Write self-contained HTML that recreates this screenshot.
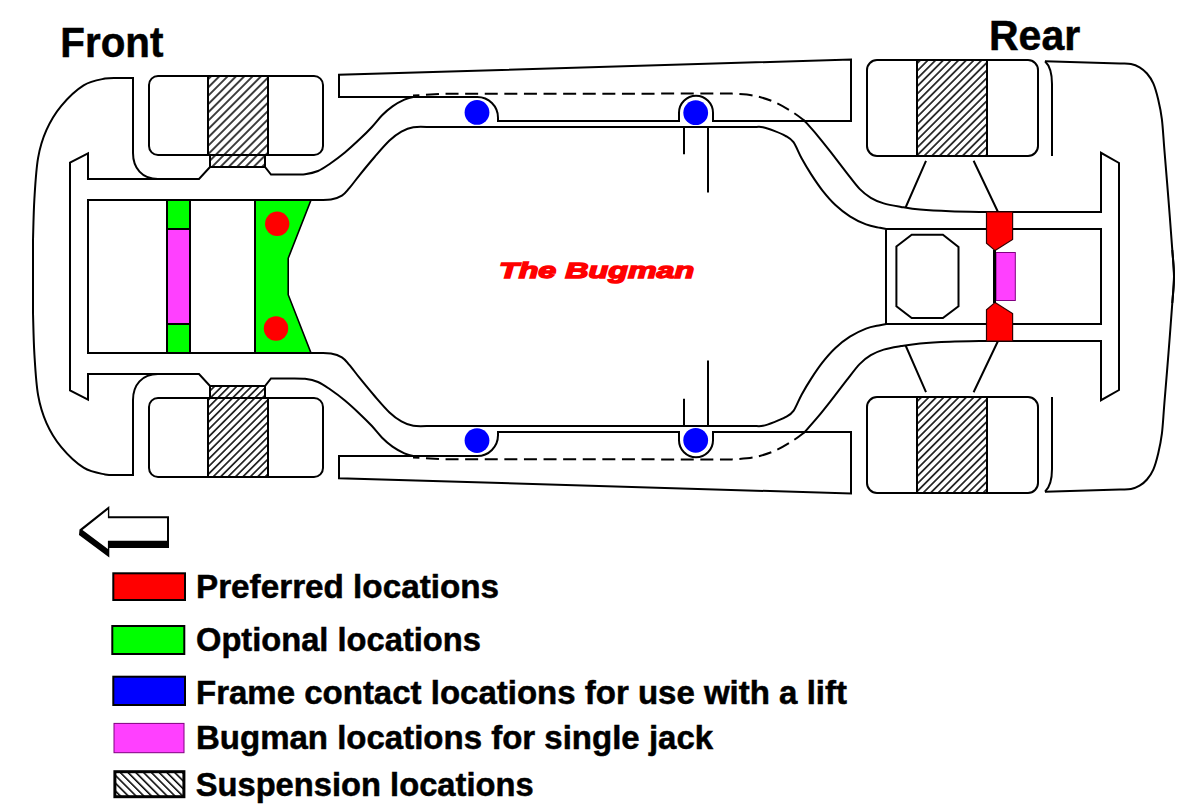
<!DOCTYPE html>
<html><head><meta charset="utf-8"><style>
html,body{margin:0;padding:0;background:#fff;width:1200px;height:807px;overflow:hidden}
svg{display:block}
text{font-family:"Liberation Sans",sans-serif}
</style></head><body>
<svg width="1200" height="807" viewBox="0 0 1200 807">
<defs>
<pattern id="hft" patternUnits="userSpaceOnUse" width="5.89" height="5.89" patternTransform="rotate(45) translate(2.9,0)"><rect x="-1" y="-1" width="7.89" height="7.89" fill="#fff"/><line x1="0" y1="-1" x2="0" y2="6.89" stroke="#000" stroke-width="1.5"/><line x1="5.89" y1="-1" x2="5.89" y2="6.89" stroke="#000" stroke-width="1.5"/></pattern>
<pattern id="hfb" patternUnits="userSpaceOnUse" width="5.25" height="5.25" patternTransform="rotate(45) translate(4.88,0)"><rect x="-1" y="-1" width="7.25" height="7.25" fill="#fff"/><line x1="0" y1="-1" x2="0" y2="6.25" stroke="#000" stroke-width="1.5"/><line x1="5.25" y1="-1" x2="5.25" y2="6.25" stroke="#000" stroke-width="1.5"/></pattern>
<pattern id="hrt" patternUnits="userSpaceOnUse" width="5.42" height="5.42" patternTransform="rotate(45) translate(4.95,0)"><rect x="-1" y="-1" width="7.42" height="7.42" fill="#fff"/><line x1="0" y1="-1" x2="0" y2="6.42" stroke="#000" stroke-width="1.5"/><line x1="5.42" y1="-1" x2="5.42" y2="6.42" stroke="#000" stroke-width="1.5"/></pattern>
<pattern id="hrb" patternUnits="userSpaceOnUse" width="5.3" height="5.3" patternTransform="rotate(45) translate(4.88,0)"><rect x="-1" y="-1" width="7.3" height="7.3" fill="#fff"/><line x1="0" y1="-1" x2="0" y2="6.3" stroke="#000" stroke-width="1.5"/><line x1="5.3" y1="-1" x2="5.3" y2="6.3" stroke="#000" stroke-width="1.5"/></pattern>
<pattern id="h2" patternUnits="userSpaceOnUse" width="5.5" height="5.5" patternTransform="rotate(-45)">
<rect width="5.5" height="5.5" fill="#fff"/><line x1="0" y1="-1" x2="0" y2="6.5" stroke="#000" stroke-width="3.1"/></pattern>
</defs>
<rect width="1200" height="807" fill="#fff"/>
<g stroke="none">
<polygon points="255,200 311,200 288.2,258.3 288.2,294.7 311,353 255,353" fill="#00ff00" stroke="#000" stroke-width="1.6"/>
<rect x="167" y="200" width="23" height="153" fill="#00ff00"/>
<rect x="167" y="229" width="23" height="95" fill="#ff40ff"/>
</g>
<g fill="none" stroke="#000" stroke-width="2">
<path d="M33,278 L33,240 C33.23,233.12 33.55,212.4 34.4,198.7 C35.25,185 36.08,169.27 38.1,157.8 C40.12,146.33 42.63,138.57 46.5,129.9 C50.37,121.23 55.12,113.23 61.3,105.8 C67.48,98.37 76.32,89.83 83.6,85.3 C90.88,80.77 98.93,79.82 105,78.6 C111.07,77.38 117.5,78.1 120,78 L133,78 L133,153 C133,168 142,179 158,179"/>
<path d="M70,278 L70,162.6 L88,153.3 L88,179 L199,179 L210,167 L265,167 L271,174.6 L290,174.6 C292.5,174.53 300.33,174.8 305,174.2 C309.67,173.6 313.83,172.75 318,171 C322.17,169.25 325.52,166.78 330,163.7 C334.48,160.62 339.93,156.6 344.9,152.5 C349.87,148.4 355.33,143.32 359.8,139.1 C364.27,134.88 367.98,131.17 371.7,127.2 C375.42,123.23 378.63,118.77 382.1,115.3 C385.57,111.83 388.78,109 392.5,106.4 C396.22,103.8 400.93,101.25 404.4,99.7 C407.87,98.15 409.87,97.55 413.3,97.1 C416.73,96.65 423.05,97.02 425,97 L477.3,97 A20.7,20.7 0 0 1 498,117.7 L498,121 L679,121 L679,112.7 A17,17 0 0 1 713,112.7 L713,121 L851,121 L851,59.5 L339,74.8 L339,97 L425,97"/>
<path d="M88,278 L88,200 L318,200 C320.17,199.93 327.02,200.32 331,199.6 C334.98,198.88 338.85,197.6 341.9,195.7 C344.95,193.8 346.32,191.68 349.3,188.2 C352.28,184.72 355.58,180 359.8,174.8 C364.02,169.6 369.65,162.7 374.6,157 C379.55,151.3 385.03,144.82 389.5,140.6 C393.97,136.38 397.43,133.93 401.4,131.7 C405.37,129.47 408.53,127.98 413.3,127.2 C418.07,126.42 427.22,127.03 430,127 L755,127 C756.33,127.03 759.8,126.55 763,127.2 C766.2,127.85 770.47,129.47 774.2,130.9 C777.93,132.33 782.18,133.92 785.4,135.8 C788.62,137.68 790.8,138.45 793.5,142.2 C796.2,145.95 798.65,152.93 801.6,158.3 C804.55,163.67 807.72,169.02 811.2,174.4 C814.68,179.78 818.47,185.5 822.5,190.6 C826.53,195.7 830.83,200.72 835.4,205 C839.97,209.28 844.8,213.07 849.9,216.3 C855,219.53 860.98,222.48 866,224.4 C871.02,226.32 876.67,227.03 880,227.8 C883.33,228.57 885,228.8 886,229 L886,278"/>
<path d="M803,119.5 C803.57,120.07 803.95,120.18 806.4,122.9 C808.85,125.62 813.67,130.97 817.7,135.8 C821.73,140.63 825.77,145.73 830.6,151.9 C835.43,158.07 841.87,166.63 846.7,172.8 C851.53,178.97 855.58,184.73 859.6,188.9 C863.62,193.07 866.78,195.38 870.8,197.8 C874.82,200.22 878.67,201.88 883.7,203.4 C888.73,204.92 894.95,205.87 901,206.9 C907.05,207.93 911.83,208.87 920,209.6 C928.17,210.33 938.83,210.9 950,211.3 C961.17,211.7 980.83,211.88 987,212 L1101,212 L1101,152.8 L1119,163 L1119,278"/>
<path d="M886,229 L1101,229 L1101,278"/>
<path d="M1045,61.3 C1050,66 1052,74 1052,84 L1052,156"/>
<path d="M1045,61.3 L1120,63.4 C1125.17,63.63 1127.73,63.35 1131,64 C1134.27,64.65 1136.93,65.72 1139.6,67.3 C1142.27,68.88 1144.72,70.82 1147,73.5 C1149.28,76.18 1151.43,79.07 1153.3,83.4 C1155.17,87.73 1156.77,93.52 1158.2,99.5 C1159.63,105.48 1160.87,110.88 1161.9,119.3 C1162.93,127.72 1163.3,136.55 1164.4,150 C1165.5,163.45 1167.18,183.33 1168.5,200 C1169.82,216.67 1171.38,237.25 1172.3,250 C1173.22,262.75 1174,267.67 1174,276.5 C1174,285.33 1172.58,298.58 1172.3,303"/>
<path d="M684,127 L684,154.3 M708,127 L708,192.6"/>
<path d="M926,160.8 L905.6,207.5 M973.6,160.8 L998,212"/>
<path d="M158,76 H314 A9,9 0 0 1 323,85 V146 A9,9 0 0 1 314,155 H158 A9,9 0 0 1 149,146 V85 A9,9 0 0 1 158,76 Z"/>
<path d="M877,60 H1028 A10,10 0 0 1 1038,70 V146 A10,10 0 0 1 1028,156 H877 A10,10 0 0 1 867,146 V70 A10,10 0 0 1 877,60 Z"/>
<path d="M413,95.6 L445,93.7 L732,93.6 C735.67,93.95 746.87,94.27 754,95.7 C761.13,97.13 768.27,99.4 774.8,102.2 C781.33,105 788.17,109.33 793.2,112.5 C798.23,115.67 803.03,119.75 805,121.2" stroke-dasharray="13 6.6" stroke-dashoffset="6.6"/>
<g transform="matrix(1 0 0 -1 0 553)">
<path d="M33,278 L33,240 C33.23,233.12 33.55,212.4 34.4,198.7 C35.25,185 36.08,169.27 38.1,157.8 C40.12,146.33 42.63,138.57 46.5,129.9 C50.37,121.23 55.12,113.23 61.3,105.8 C67.48,98.37 76.32,89.83 83.6,85.3 C90.88,80.77 98.93,79.82 105,78.6 C111.07,77.38 117.5,78.1 120,78 L133,78 L133,153 C133,168 142,179 158,179"/>
<path d="M70,278 L70,162.6 L88,153.3 L88,179 L199,179 L210,167 L265,167 L271,174.6 L290,174.6 C292.5,174.53 300.33,174.8 305,174.2 C309.67,173.6 313.83,172.75 318,171 C322.17,169.25 325.52,166.78 330,163.7 C334.48,160.62 339.93,156.6 344.9,152.5 C349.87,148.4 355.33,143.32 359.8,139.1 C364.27,134.88 367.98,131.17 371.7,127.2 C375.42,123.23 378.63,118.77 382.1,115.3 C385.57,111.83 388.78,109 392.5,106.4 C396.22,103.8 400.93,101.25 404.4,99.7 C407.87,98.15 409.87,97.55 413.3,97.1 C416.73,96.65 423.05,97.02 425,97 L477.3,97 A20.7,20.7 0 0 1 498,117.7 L498,121 L679,121 L679,112.7 A17,17 0 0 1 713,112.7 L713,121 L851,121 L851,59.5 L339,74.8 L339,97 L425,97"/>
<path d="M88,278 L88,200 L318,200 C320.17,199.93 327.02,200.32 331,199.6 C334.98,198.88 338.85,197.6 341.9,195.7 C344.95,193.8 346.32,191.68 349.3,188.2 C352.28,184.72 355.58,180 359.8,174.8 C364.02,169.6 369.65,162.7 374.6,157 C379.55,151.3 385.03,144.82 389.5,140.6 C393.97,136.38 397.43,133.93 401.4,131.7 C405.37,129.47 408.53,127.98 413.3,127.2 C418.07,126.42 427.22,127.03 430,127 L755,127 C756.33,127.03 759.8,126.55 763,127.2 C766.2,127.85 770.47,129.47 774.2,130.9 C777.93,132.33 782.18,133.92 785.4,135.8 C788.62,137.68 790.8,138.45 793.5,142.2 C796.2,145.95 798.65,152.93 801.6,158.3 C804.55,163.67 807.72,169.02 811.2,174.4 C814.68,179.78 818.47,185.5 822.5,190.6 C826.53,195.7 830.83,200.72 835.4,205 C839.97,209.28 844.8,213.07 849.9,216.3 C855,219.53 860.98,222.48 866,224.4 C871.02,226.32 876.67,227.03 880,227.8 C883.33,228.57 885,228.8 886,229 L886,278"/>
<path d="M803,119.5 C803.57,120.07 803.95,120.18 806.4,122.9 C808.85,125.62 813.67,130.97 817.7,135.8 C821.73,140.63 825.77,145.73 830.6,151.9 C835.43,158.07 841.87,166.63 846.7,172.8 C851.53,178.97 855.58,184.73 859.6,188.9 C863.62,193.07 866.78,195.38 870.8,197.8 C874.82,200.22 878.67,201.88 883.7,203.4 C888.73,204.92 894.95,205.87 901,206.9 C907.05,207.93 911.83,208.87 920,209.6 C928.17,210.33 938.83,210.9 950,211.3 C961.17,211.7 980.83,211.88 987,212 L1101,212 L1101,152.8 L1119,163 L1119,278"/>
<path d="M886,229 L1101,229 L1101,278"/>
<path d="M1045,61.3 C1050,66 1052,74 1052,84 L1052,156"/>
<path d="M1045,61.3 L1120,63.4 C1125.17,63.63 1127.73,63.35 1131,64 C1134.27,64.65 1136.93,65.72 1139.6,67.3 C1142.27,68.88 1144.72,70.82 1147,73.5 C1149.28,76.18 1151.43,79.07 1153.3,83.4 C1155.17,87.73 1156.77,93.52 1158.2,99.5 C1159.63,105.48 1160.87,110.88 1161.9,119.3 C1162.93,127.72 1163.3,136.55 1164.4,150 C1165.5,163.45 1167.18,183.33 1168.5,200 C1169.82,216.67 1171.38,237.25 1172.3,250 C1173.22,262.75 1174,267.67 1174,276.5 C1174,285.33 1172.58,298.58 1172.3,303"/>
<path d="M684,127 L684,154.3 M708,127 L708,192.6"/>
<path d="M926,160.8 L905.6,207.5 M973.6,160.8 L998,212"/>
<path d="M158,76 H314 A9,9 0 0 1 323,85 V146 A9,9 0 0 1 314,155 H158 A9,9 0 0 1 149,146 V85 A9,9 0 0 1 158,76 Z"/>
<path d="M877,60 H1028 A10,10 0 0 1 1038,70 V146 A10,10 0 0 1 1028,156 H877 A10,10 0 0 1 867,146 V70 A10,10 0 0 1 877,60 Z"/>
<path d="M413,95.6 L445,93.7 L732,93.6 C735.67,93.95 746.87,94.27 754,95.7 C761.13,97.13 768.27,99.4 774.8,102.2 C781.33,105 788.17,109.33 793.2,112.5 C798.23,115.67 803.03,119.75 805,121.2" stroke-dasharray="13 6.6" stroke-dashoffset="6.6"/>
</g>
<path d="M167,200 V353 M190,200 V353 M167,229 H190 M167,324 H190 M255,200 V353"/>
<polygon points="896.4,246.5 911.7,234.8 942.9,234.8 958.5,247 958.5,306.3 942.9,318 911.7,318 896.4,306.3"/>
</g>
<rect x="208" y="76" width="60" height="79" fill="url(#hft)" stroke="#000" stroke-width="2"/>
<rect x="208" y="398" width="60" height="79" fill="url(#hfb)" stroke="#000" stroke-width="2"/>
<rect x="210" y="155" width="55" height="12" fill="url(#hft)" stroke="#000" stroke-width="2"/>
<rect x="210" y="386" width="55" height="12" fill="url(#hfb)" stroke="#000" stroke-width="2"/>
<rect x="917" y="60" width="70" height="96" fill="url(#hrt)" stroke="#000" stroke-width="2"/>
<rect x="917" y="397" width="70" height="96" fill="url(#hrb)" stroke="#000" stroke-width="2"/>
<g fill="#0000ff">
<circle cx="477" cy="112.4" r="12.4"/>
<circle cx="477" cy="440.6" r="12.4"/>
<circle cx="695.7" cy="112.7" r="12.4"/>
<circle cx="695.7" cy="440.3" r="12.4"/>
</g>
<g fill="#ff0000" stroke="none">
<circle cx="277.2" cy="223.8" r="12.2"/><circle cx="276" cy="328.5" r="12.2"/>
<polygon points="986.5,212 1012.6,212 1012.6,239.4 995.1,250.6 986.5,243.2" stroke="#300" stroke-width="1.2"/>
<polygon points="986.5,341 1012.6,341 1012.6,313.6 995.1,302.4 986.5,309.8" stroke="#300" stroke-width="1.2"/>
</g>
<rect x="996" y="252.5" width="19.3" height="48" fill="#ff40ff" stroke="#800080" stroke-width="1"/>
<path d="M994.5,250 V303" stroke="#000" stroke-width="3"/>
<text x="499" y="277.6" fill="#ff0000" font-family="Liberation Sans" font-weight="bold" font-style="italic" font-size="21.5" stroke="#ff0000" stroke-width="1.4" transform="translate(499 0) scale(1.5 1) translate(-499 0)">The Bugman</text>
<g font-family="Liberation Sans" font-weight="bold" fill="#000" stroke="#000" stroke-width="0.5">
<text x="60.3" y="56.8" font-size="42.5" transform="translate(60.3 0) scale(0.95 1) translate(-60.3 0)">Front</text>
<text x="989" y="50.3" font-size="42.5" transform="translate(989 0) scale(0.965 1) translate(-989 0)">Rear</text>
</g>
<polygon points="79.5,529.5 109.3,506 109.3,516.2 169,516.2 169,548 109.3,548 109.3,557.5 79,535" fill="#000"/>
<polygon points="82.5,530 107.9,509.8 107.9,518.3 167,518.3 167,540.8 107.9,540.8 107.9,549" fill="#fff"/>
<rect x="113.3" y="573.3" width="71.7" height="26.7" fill="#ff0000" stroke="#000" stroke-width="2"/>
<rect x="112.3" y="626" width="72" height="28" fill="#00ff00" stroke="#000" stroke-width="2"/>
<rect x="113.3" y="676.7" width="71.7" height="28.3" fill="#0000ff" stroke="#000" stroke-width="2"/>
<rect x="114" y="723.4" width="70" height="29.3" fill="#ff40ff" stroke="#800080" stroke-width="1"/>
<rect x="114.9" y="771.7" width="69" height="25" fill="url(#h2)" stroke="#000" stroke-width="3"/>
<g font-family="Liberation Sans" font-weight="bold" fill="#000" stroke="#000" stroke-width="0.5" font-size="33">
<text x="196" y="598.5" transform="translate(196 0) scale(1.008 1) translate(-196 0)">Preferred locations</text>
<text x="196" y="650.7" transform="translate(196 0) scale(0.99 1) translate(-196 0)">Optional locations</text>
<text x="196" y="704" transform="translate(196 0) scale(1.0 1) translate(-196 0)">Frame contact locations for use with a lift</text>
<text x="196" y="749.3" transform="translate(196 0) scale(1.0 1) translate(-196 0)">Bugman locations for single jack</text>
<text x="195.7" y="796" transform="translate(195.7 0) scale(0.991 1) translate(-195.7 0)">Suspension locations</text>
</g>
</svg>
</body></html>
